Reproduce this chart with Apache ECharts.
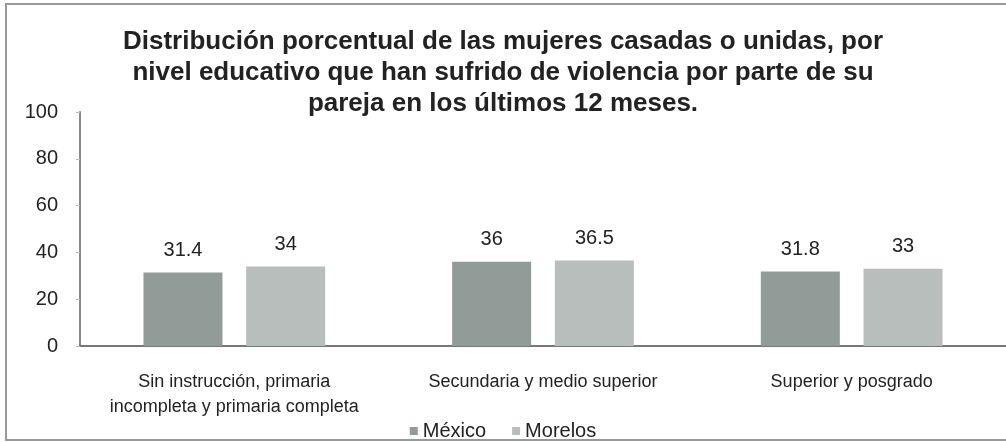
<!DOCTYPE html>
<html>
<head>
<meta charset="UTF-8">
<title>Violencia por nivel educativo</title>
<script src="https://cdn.jsdelivr.net/npm/echarts@6/dist/echarts.min.js"></script>
</head>
<body style="margin:0;background:#fff">
<div id="main" style="width:1006px;height:442px"></div>
<script type="text/javascript">
var categorias = ['Sin instrucción, primaria\nincompleta y primaria completa', 'Secundaria y medio superior', 'Superior y posgrado'];
var mexico = [31.4, 36, 31.8];
var morelos = [34, 36.5, 33];
var titulo = 'Distribución porcentual de las mujeres casadas o unidas, por\nnivel educativo que han sufrido de violencia por parte de su\npareja en los últimos 12 meses.';

var myChart = echarts.init(document.getElementById('main'));
var etiqueta = {
	show: true,
	position: 'top',
	distance: 12,
	fontFamily: 'Liberation Sans',
	fontSize: 20,
	color: '#222'
};
var option = {
	animation: false,
	title: {
		text: titulo,
		left: 'center',
		top: 21,
		textStyle: {
			fontFamily: 'Liberation Sans',
			fontSize: 26,
			fontWeight: 'bold',
			color: '#222',
			lineHeight: 31
		}
	},
	legend: {
		data: ['México', 'Morelos'],
		left: 'center',
		top: 416,
		itemWidth: 8,
		itemHeight: 8,
		itemGap: 26,
		icon: 'rect',
		textStyle: { fontFamily: 'Liberation Sans', fontSize: 20, color: '#222' }
	},
	grid: { left: 80, right: 0, top: 112, bottom: 96 },
	xAxis: {
		type: 'category',
		data: categorias,
		axisLine: { lineStyle: { color: '#777', width: 2 } },
		axisTick: { show: false },
		axisLabel: {
			interval: 0,
			fontFamily: 'Liberation Sans',
			fontSize: 18,
			color: '#222',
			margin: 24,
			lineHeight: 25
		}
	},
	yAxis: {
		type: 'value',
		min: 0,
		max: 100,
		interval: 20,
		axisLine: { show: true, lineStyle: { color: '#888', width: 2 } },
		axisTick: { show: true, length: 4, lineStyle: { color: '#bbb' } },
		splitLine: { show: false },
		axisLabel: { fontFamily: 'Liberation Sans', fontSize: 20, color: '#222', margin: 22 }
	},
	graphic: [{
		type: 'polyline',
		shape: { points: [[1006, 4], [6, 4], [6, 440], [1006, 440]] },
		style: { stroke: '#999', lineWidth: 2, fill: null }
	}],
	series: [{
		name: 'México',
		type: 'bar',
		data: mexico,
		barWidth: 79,
		barGap: '30%',
		itemStyle: { color: '#919b98' },
		label: etiqueta
	}, {
		name: 'Morelos',
		type: 'bar',
		data: morelos,
		barWidth: 79,
		itemStyle: { color: '#b7bebb' },
		label: etiqueta
	}]
};
myChart.setOption(option);
</script>
</body>
</html>
